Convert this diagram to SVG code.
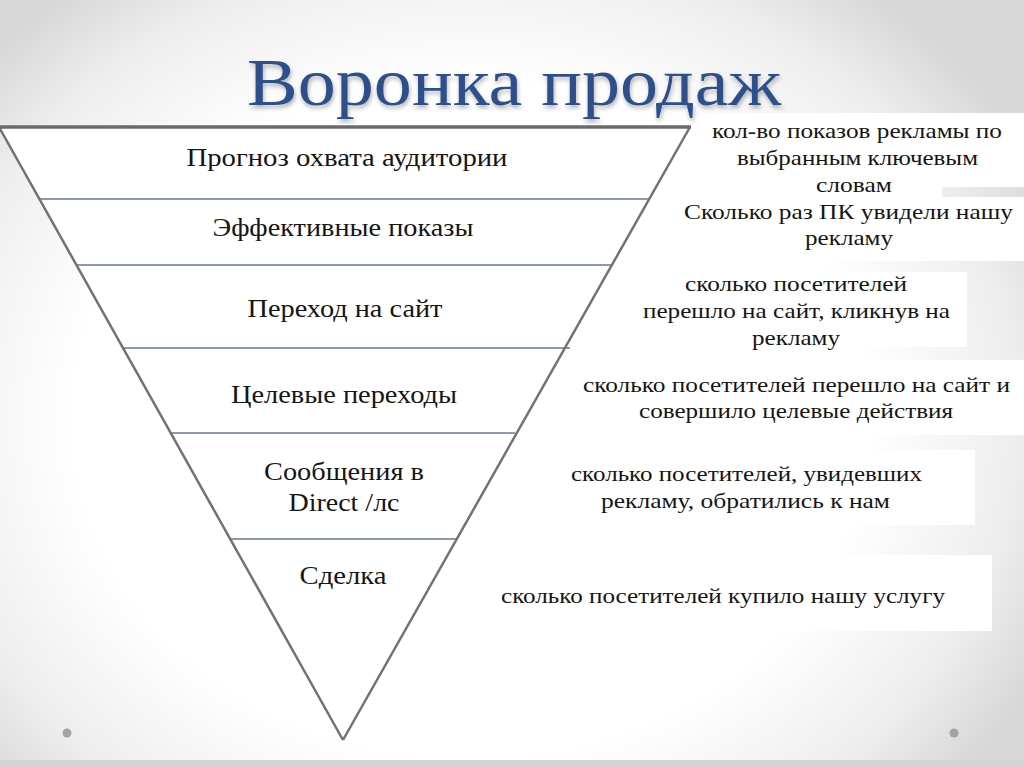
<svg xmlns="http://www.w3.org/2000/svg" width="1024" height="767" viewBox="0 0 1024 767">
  <defs>
    <radialGradient id="bg" cx="470" cy="420" r="640" gradientUnits="userSpaceOnUse" gradientTransform="translate(470 420) scale(1 0.85) translate(-470 -420)">
      <stop offset="0" stop-color="#ffffff"/>
      <stop offset="0.62" stop-color="#ffffff"/>
      <stop offset="0.85" stop-color="#eeeeee"/>
      <stop offset="1" stop-color="#d8d8d8"/>
    </radialGradient>
    <filter id="shadow" x="-5%" y="-20%" width="110%" height="150%">
      <feDropShadow dx="1" dy="3" stdDeviation="2" flood-color="#000" flood-opacity="0.3"/>
    </filter>
    <style>
      .title { font-family: "Liberation Serif", "DejaVu Serif", serif; font-size: 68px; fill: #2d5089; }
      .lbl { font-family: "Liberation Serif", "DejaVu Serif", serif; font-size: 25px; fill: #151515; text-anchor: middle; }
      .note { font-family: "Liberation Serif", "DejaVu Serif", serif; font-size: 21px; fill: #151515; }
      .edge { stroke: #727272; stroke-width: 2.5; fill: none; }
      .div { stroke: #8d99b0; stroke-width: 2; }
      .box { fill: #ffffff; }
      .dot { fill: #a3a3a3; }
    </style>
  </defs>

  <rect x="0" y="0" width="1024" height="767" fill="url(#bg)"/>
  <rect x="0" y="760" width="1024" height="7" fill="#d4d4d4"/>

  <g id="title">
    <text class="title" x="247" y="105" textLength="534" lengthAdjust="spacingAndGlyphs" filter="url(#shadow)">Воронка продаж</text>
  </g>

  <g id="note-boxes">
    <rect class="box" x="700" y="113" width="324" height="74"/>
    <rect class="box" x="670" y="185" width="272" height="14"/>
    <rect class="box" x="670" y="197" width="354" height="64"/>
    <rect class="box" x="598" y="272" width="369" height="75"/>
    <rect class="box" x="575" y="360" width="449" height="75"/>
    <rect class="box" x="545" y="450" width="430" height="75"/>
    <rect class="box" x="480" y="555" width="512" height="76"/>
  </g>

  <g id="funnel">
    <polygon points="0,127 690,127 343,740" fill="#ffffff"/>
  </g>

  <g id="connectors">
    <line class="div" x1="40" y1="199" x2="649" y2="199"/>
    <line class="div" x1="77" y1="265" x2="612" y2="265"/>
    <line class="div" x1="123" y1="348" x2="570" y2="348"/>
    <line class="div" x1="171" y1="433" x2="515" y2="433"/>
    <line class="div" x1="230" y1="539" x2="457" y2="539"/>
    <line class="edge" x1="-1" y1="127" x2="343" y2="740"/>
    <line class="edge" x1="690" y1="127" x2="343" y2="740"/>
    <line x1="0" y1="127" x2="691" y2="127" stroke="#6a6a6a" stroke-width="3.5"/>
  </g>

  <g id="stage1">
    <text class="lbl" x="347" y="166" textLength="321" lengthAdjust="spacingAndGlyphs">Прогноз охвата аудитории</text>
  </g>
  <g id="stage2">
    <text class="lbl" x="343" y="236" textLength="261" lengthAdjust="spacingAndGlyphs">Эффективные показы</text>
  </g>
  <g id="stage3">
    <text class="lbl" x="345" y="317" textLength="195" lengthAdjust="spacingAndGlyphs">Переход на сайт</text>
  </g>
  <g id="stage4">
    <text class="lbl" x="344" y="403" textLength="226" lengthAdjust="spacingAndGlyphs">Целевые переходы</text>
  </g>
  <g id="stage5">
    <text class="lbl" x="344" y="480" textLength="160" lengthAdjust="spacingAndGlyphs">Сообщения в</text>
    <text class="lbl" x="344" y="511" textLength="111" lengthAdjust="spacingAndGlyphs">Direct /лс</text>
  </g>
  <g id="stage6">
    <text class="lbl" x="343" y="584" textLength="87" lengthAdjust="spacingAndGlyphs">Сделка</text>
  </g>

  <g id="note1">
    <text class="note" x="712" y="138" textLength="290" lengthAdjust="spacingAndGlyphs">кол-во показов рекламы по</text>
    <text class="note" x="737" y="165" textLength="241" lengthAdjust="spacingAndGlyphs">выбранным ключевым</text>
    <text class="note" x="816" y="192" textLength="76" lengthAdjust="spacingAndGlyphs">словам</text>
  </g>
  <g id="note2">
    <text class="note" x="684" y="219" textLength="329" lengthAdjust="spacingAndGlyphs">Сколько раз ПК увидели нашу</text>
    <text class="note" x="805" y="245" textLength="88" lengthAdjust="spacingAndGlyphs">рекламу</text>
  </g>
  <g id="note3">
    <text class="note" x="685" y="291" textLength="222" lengthAdjust="spacingAndGlyphs">сколько посетителей</text>
    <text class="note" x="643" y="318" textLength="307" lengthAdjust="spacingAndGlyphs">перешло на сайт, кликнув на</text>
    <text class="note" x="752" y="345" textLength="88" lengthAdjust="spacingAndGlyphs">рекламу</text>
  </g>
  <g id="note4">
    <text class="note" x="583" y="392" textLength="427" lengthAdjust="spacingAndGlyphs">сколько посетителей перешло на сайт и</text>
    <text class="note" x="639" y="418" textLength="314" lengthAdjust="spacingAndGlyphs">совершило целевые действия</text>
  </g>
  <g id="note5">
    <text class="note" x="571" y="481" textLength="351" lengthAdjust="spacingAndGlyphs">сколько посетителей, увидевших</text>
    <text class="note" x="601" y="508" textLength="289" lengthAdjust="spacingAndGlyphs">рекламу, обратились к нам</text>
  </g>
  <g id="note6">
    <text class="note" x="501" y="603" textLength="444" lengthAdjust="spacingAndGlyphs">сколько посетителей купило нашу услугу</text>
  </g>

  <g id="dots">
    <circle class="dot" cx="67" cy="733" r="4.5"/>
    <circle class="dot" cx="954" cy="733" r="4.5"/>
  </g>
</svg>
